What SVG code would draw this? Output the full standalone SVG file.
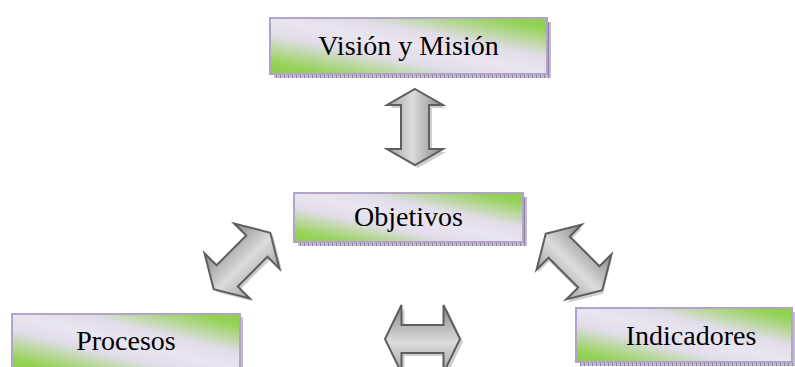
<svg xmlns="http://www.w3.org/2000/svg" width="795" height="367" viewBox="0 0 795 367">
  <defs>
    <linearGradient id="boxFill" x1="0" y1="1" x2="1" y2="0">
      <stop offset="0" stop-color="#8ccf48"/>
      <stop offset="0.1" stop-color="#95d257"/>
      <stop offset="0.36" stop-color="#e2ddea"/>
      <stop offset="0.5" stop-color="#e9e5ef"/>
      <stop offset="0.64" stop-color="#e2ddea"/>
      <stop offset="0.9" stop-color="#95d257"/>
      <stop offset="1" stop-color="#8ccf48"/>
    </linearGradient>
    <pattern id="boxShadow" width="8" height="8" patternUnits="userSpaceOnUse">
      <rect width="8" height="8" fill="#c3bad0"/>
      <path d="M0.5 0V8M4.5 0V8" stroke="#8e82a3" stroke-width="1"/>
    </pattern>
    <linearGradient id="arrowFill" x1="0" y1="0" x2="0" y2="1">
      <stop offset="0" stop-color="#888888"/>
      <stop offset="0.55" stop-color="#dcdcdc"/>
      <stop offset="1" stop-color="#a2a2a2"/>
    </linearGradient>
    <style>
      .box { fill: url(#boxFill); stroke: #b3a3c9; stroke-width: 2; }
      .shadow { fill: url(#boxShadow); }
      .label { font-family: "Liberation Serif", "Times New Roman", serif; font-size: 28px; fill: #000; text-anchor: middle; }
      .arrow { fill: url(#arrowFill); stroke: #5e5e5e; stroke-width: 2; stroke-linejoin: miter; }
      .arrow-shadow { fill: #bdbdbd; opacity: 0.75; }
    </style>
  </defs>

  <!-- double-headed block arrows -->
  <g id="connectors">
    <g transform="translate(415,127) rotate(90)">
      <path class="arrow-shadow" transform="translate(3,-3)" d="M-38 0L-22 -28L-22 -14L22 -14L22 -28L38 0L22 28L22 14L-22 14L-22 28Z"/>
      <path class="arrow" d="M-38 0L-22 -28L-22 -14L22 -14L22 -28L38 0L22 28L22 14L-22 14L-22 28Z"/>
    </g>
    <g transform="translate(242,261) rotate(-45)">
      <path class="arrow-shadow" transform="translate(0,4)" d="M-40 0L-21 -32L-21 -15L21 -15L21 -32L40 0L21 32L21 15L-21 15L-21 32Z"/>
      <path class="arrow" d="M-40 0L-21 -32L-21 -15L21 -15L21 -32L40 0L21 32L21 15L-21 15L-21 32Z"/>
    </g>
    <g transform="translate(574,262) rotate(45)">
      <path class="arrow-shadow" transform="translate(3,2)" d="M-40 0L-21 -32L-21 -15L21 -15L21 -32L40 0L21 32L21 15L-21 15L-21 32Z"/>
      <path class="arrow" d="M-40 0L-21 -32L-21 -15L21 -15L21 -32L40 0L21 32L21 15L-21 15L-21 32Z"/>
    </g>
    <g transform="translate(422.5,339)">
      <path class="arrow-shadow" transform="translate(3,3)" d="M-37.5 0L-21 -34L-21 -14L21 -14L21 -34L37.5 0L21 34L21 14L-21 14L-21 34Z"/>
      <path class="arrow" d="M-37.5 0L-21 -34L-21 -14L21 -14L21 -34L37.5 0L21 34L21 14L-21 14L-21 34Z"/>
    </g>
  </g>

  <g id="vision-mision">
    <rect class="shadow" x="274" y="22" width="277" height="56"/>
    <rect class="box" x="270" y="18" width="277" height="56"/>
    <text class="label" x="408.5" y="55">Visión y Misión</text>
  </g>

  <g id="objetivos">
    <rect class="shadow" x="298" y="197" width="229" height="49"/>
    <rect class="box" x="294" y="193" width="229" height="49"/>
    <text class="label" x="408.5" y="226">Objetivos</text>
  </g>

  <g id="procesos">
    <rect class="shadow" x="15" y="317" width="228" height="56"/>
    <rect class="box" x="12" y="314" width="228" height="56"/>
    <text class="label" x="126" y="350">Procesos</text>
  </g>

  <g id="indicadores">
    <rect class="shadow" x="580" y="312" width="216" height="54"/>
    <rect class="box" x="576" y="308" width="216" height="54"/>
    <text class="label" x="691" y="345">Indicadores</text>
  </g>
</svg>
